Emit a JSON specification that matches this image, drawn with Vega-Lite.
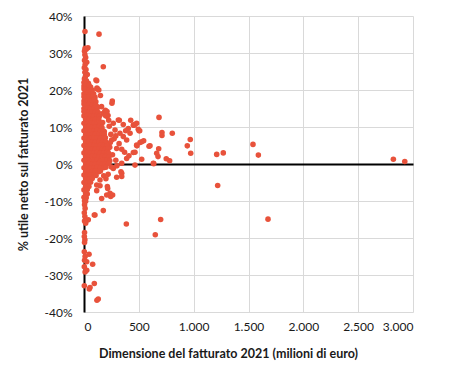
{
"$schema": "https://vega.github.io/schema/vega-lite/v6.json",
"width": 329, "height": 296,
"autosize": {"type": "none"},
"padding": {"left": 84, "top": 16, "right": 37, "bottom": 56},
"background": "white",
"config": {"view": {"stroke": null}, "font": "Lato"},
"data": {"values": [
{"x":684,"y":12.6},{"x":711,"y":8.5},{"x":711,"y":7.7},{"x":805,"y":8.3},{"x":602,"y":4.9},{"x":681,"y":4.1},{"x":663,"y":2.9},{"x":675,"y":2.0},{"x":632,"y":0.2},{"x":750,"y":1.4},{"x":781,"y":0.9},{"x":969,"y":6.6},{"x":942,"y":4.9},{"x":973,"y":2.9},{"x":1210,"y":2.6},{"x":1270,"y":3.0},{"x":1541,"y":5.3},{"x":1590,"y":2.4},{"x":2821,"y":1.3},{"x":2925,"y":0.7},{"x":1219,"y":-5.8},{"x":699,"y":-15.0},{"x":650,"y":-19.1},{"x":1678,"y":-14.9},{"x":386,"y":-16.2},
{"x":465,"y":10.7},{"x":495,"y":9.4},{"x":508,"y":9.0},{"x":544,"y":6.3},{"x":511,"y":5.8},{"x":483,"y":4.9},{"x":593,"y":4.8},{"x":465,"y":3.2},{"x":526,"y":1.3},{"x":636,"y":0.1},
{"x":176,"y":26.3},{"x":116,"y":22.5},{"x":137,"y":35.1},{"x":9,"y":35.8},{"x":121,"y":20.3},{"x":94,"y":17.3},{"x":258,"y":17.0},{"x":255,"y":16.4},{"x":189,"y":14.1},{"x":176,"y":13.7},{"x":219,"y":13.1},{"x":201,"y":13.7},{"x":195,"y":14.5},{"x":210,"y":14.2},{"x":205,"y":12.9},{"x":192,"y":13.2},
{"x":322,"y":11.8},{"x":426,"y":11.8},{"x":267,"y":11.0},{"x":358,"y":10.7},{"x":480,"y":11.0},{"x":450,"y":10.5},{"x":502,"y":9.0},{"x":404,"y":9.6},{"x":283,"y":9.2},{"x":328,"y":8.3},{"x":358,"y":7.4},{"x":252,"y":6.5},{"x":389,"y":6.5},{"x":526,"y":6.0},{"x":480,"y":5.1},{"x":298,"y":4.2},{"x":344,"y":4.0},{"x":450,"y":3.1},{"x":389,"y":1.5},{"x":465,"y":-0.3},{"x":344,"y":0.2},{"x":267,"y":-1.2},{"x":344,"y":-2.5},{"x":298,"y":-3.6},{"x":213,"y":-6.1},{"x":261,"y":-8.4},{"x":243,"y":-8.8},{"x":146,"y":-4.3},{"x":116,"y":-5.7},{"x":337,"y":-2.1},{"x":146,"y":-5.9},{"x":216,"y":-6.6},{"x":116,"y":-7.2},{"x":176,"y":-12.6},{"x":100,"y":-13.8},{"x":39,"y":-15.1},{"x":313,"y":11.9},{"x":456,"y":10.5},
{"x":230,"y":10.2},{"x":245,"y":8.0},{"x":275,"y":6.8},{"x":235,"y":4.5},{"x":260,"y":2.5},{"x":290,"y":1.0},{"x":250,"y":-0.8},{"x":220,"y":-2.8},{"x":200,"y":-4.0},{"x":180,"y":-3.2},{"x":300,"y":-0.5},{"x":320,"y":5.5},{"x":370,"y":3.2},{"x":410,"y":2.2},{"x":420,"y":8.3},{"x":380,"y":9.0},{"x":290,"y":7.6},{"x":225,"y":11.8},{"x":160,"y":15.5},{"x":150,"y":18.5},{"x":135,"y":20.0},{"x":170,"y":11.2},{"x":185,"y":8.8},{"x":240,"y":5.8},
{"x":70,"y":-3.0},{"x":161,"y":-9.3},{"x":207,"y":-8.4},{"x":237,"y":-7.9},{"x":94,"y":-13.8},{"x":344,"y":-3.4},
{"x":10,"y":31.3},{"x":5,"y":30.5},{"x":20,"y":31.0},{"x":36,"y":31.4},{"x":8,"y":29.5},{"x":15,"y":28.8},{"x":5,"y":28.0},{"x":25,"y":27.5},{"x":10,"y":26.8},{"x":3,"y":26.0},{"x":18,"y":25.5},{"x":8,"y":24.8},{"x":30,"y":24.2},{"x":12,"y":23.6},{"x":4,"y":23.0},{"x":22,"y":22.5},{"x":40,"y":21.8},{"x":109,"y":22.7},{"x":118,"y":20.5},
{"x":5,"y":-11.0},{"x":10,"y":-12.0},{"x":3,"y":-13.2},{"x":8,"y":-14.2},{"x":5,"y":-15.4},{"x":15,"y":-16.0},{"x":5,"y":-18.5},{"x":3,"y":-19.6},{"x":8,"y":-20.5},{"x":5,"y":-21.2},{"x":3,"y":-23.7},{"x":46,"y":-24.4},{"x":10,"y":-25.0},{"x":5,"y":-26.0},{"x":25,"y":-26.4},{"x":79,"y":-27.1},{"x":3,"y":-27.8},{"x":25,"y":-28.7},{"x":10,"y":-29.2},{"x":3,"y":-32.9},{"x":55,"y":-33.4},{"x":48,"y":-33.8},{"x":94,"y":-32.3},{"x":130,"y":-36.5},{"x":118,"y":-36.8},
{"x":0,"y":21.1},{"x":30,"y":21.0},{"x":60,"y":20.8},
{"x":15,"y":20.1},{"x":45,"y":19.9},{"x":75,"y":20.0},
{"x":0,"y":19.0},{"x":30,"y":19.1},{"x":60,"y":18.9},{"x":88,"y":19.0},
{"x":15,"y":18.0},{"x":45,"y":18.1},{"x":75,"y":17.9},{"x":100,"y":18.0},
{"x":0,"y":17.0},{"x":30,"y":16.9},{"x":60,"y":17.1},{"x":90,"y":17.0},{"x":108,"y":16.8},
{"x":15,"y":16.0},{"x":45,"y":16.1},{"x":75,"y":15.9},{"x":105,"y":16.0},
{"x":0,"y":15.0},{"x":30,"y":15.1},{"x":60,"y":14.9},{"x":90,"y":15.0},{"x":120,"y":15.1},
{"x":15,"y":14.0},{"x":45,"y":13.9},{"x":75,"y":14.1},{"x":105,"y":14.0},{"x":130,"y":13.9},
{"x":0,"y":13.0},{"x":30,"y":13.1},{"x":60,"y":12.9},{"x":90,"y":13.0},{"x":120,"y":13.1},{"x":140,"y":12.9},
{"x":15,"y":12.0},{"x":45,"y":12.1},{"x":75,"y":11.9},{"x":105,"y":12.0},{"x":135,"y":12.1},
{"x":0,"y":11.0},{"x":30,"y":10.9},{"x":60,"y":11.1},{"x":90,"y":11.0},{"x":120,"y":10.9},{"x":150,"y":11.0},
{"x":15,"y":10.0},{"x":45,"y":10.1},{"x":75,"y":9.9},{"x":105,"y":10.0},{"x":135,"y":10.1},{"x":163,"y":9.9},
{"x":0,"y":9.0},{"x":30,"y":9.1},{"x":60,"y":8.9},{"x":90,"y":9.0},{"x":120,"y":9.1},{"x":150,"y":8.9},{"x":175,"y":9.0},
{"x":15,"y":8.0},{"x":45,"y":7.9},{"x":75,"y":8.1},{"x":105,"y":8.0},{"x":135,"y":7.9},{"x":165,"y":8.1},{"x":185,"y":8.0},
{"x":0,"y":7.0},{"x":30,"y":7.1},{"x":60,"y":6.9},{"x":90,"y":7.0},{"x":120,"y":7.1},{"x":150,"y":6.9},{"x":180,"y":7.0},{"x":195,"y":7.1},
{"x":15,"y":6.0},{"x":45,"y":6.1},{"x":75,"y":5.9},{"x":105,"y":6.0},{"x":135,"y":6.1},{"x":165,"y":5.9},{"x":198,"y":6.0},
{"x":0,"y":5.0},{"x":30,"y":4.9},{"x":60,"y":5.1},{"x":90,"y":5.0},{"x":120,"y":4.9},{"x":150,"y":5.1},{"x":180,"y":5.0},{"x":210,"y":4.9},
{"x":15,"y":4.0},{"x":45,"y":4.1},{"x":75,"y":3.9},{"x":105,"y":4.0},{"x":135,"y":4.1},{"x":165,"y":3.9},{"x":195,"y":4.0},{"x":220,"y":4.1},
{"x":0,"y":3.0},{"x":30,"y":3.1},{"x":60,"y":2.9},{"x":90,"y":3.0},{"x":120,"y":3.1},{"x":150,"y":2.9},{"x":180,"y":3.0},{"x":210,"y":3.1},{"x":225,"y":2.9},
{"x":15,"y":2.0},{"x":45,"y":1.9},{"x":75,"y":2.1},{"x":105,"y":2.0},{"x":135,"y":1.9},{"x":165,"y":2.1},{"x":195,"y":2.0},{"x":228,"y":1.9},
{"x":0,"y":1.0},{"x":30,"y":1.1},{"x":60,"y":0.9},{"x":90,"y":1.0},{"x":120,"y":1.1},{"x":150,"y":0.9},{"x":180,"y":1.0},{"x":210,"y":1.1},{"x":235,"y":0.9},
{"x":15,"y":0.0},{"x":45,"y":0.1},{"x":75,"y":-0.1},{"x":105,"y":0.0},{"x":135,"y":0.1},{"x":165,"y":-0.1},{"x":195,"y":0.0},{"x":225,"y":0.1},
{"x":0,"y":-1.0},{"x":30,"y":-0.9},{"x":60,"y":-1.1},{"x":90,"y":-1.0},{"x":120,"y":-0.9},{"x":150,"y":-1.1},{"x":180,"y":-1.0},{"x":200,"y":-0.9},
{"x":15,"y":-2.0},{"x":45,"y":-2.1},{"x":75,"y":-1.9},{"x":105,"y":-2.0},{"x":135,"y":-2.1},{"x":150,"y":-1.9},
{"x":0,"y":-3.0},{"x":30,"y":-3.1},{"x":60,"y":-2.9},{"x":90,"y":-3.0},{"x":110,"y":-3.1},
{"x":15,"y":-4.0},{"x":45,"y":-4.1},{"x":75,"y":-3.9},
{"x":0,"y":-5.0},{"x":30,"y":-5.1},{"x":60,"y":-4.9},
{"x":15,"y":-6.0},{"x":45,"y":-6.1},
{"x":0,"y":-7.0},{"x":30,"y":-6.9},
{"x":15,"y":-8.0},{"x":30,"y":-8.1},
{"x":0,"y":-9.0},{"x":20,"y":-9.1},
{"x":5,"y":-10.0},{"x":15,"y":-10.1},
{"x":0,"y":22.0},{"x":20,"y":21.5},{"x":45,"y":21.3},{"x":0,"y":20.3},{"x":60,"y":19.6},{"x":85,"y":18.5},{"x":0,"y":18.2},{"x":95,"y":17.5},{"x":0,"y":16.2},{"x":115,"y":15.6},{"x":0,"y":14.2}
]},
"mark": {"type": "circle", "size": 31, "color": "#E8523B", "opacity": 1},
"encoding": {
"x": {"field": "x", "type": "quantitative",
 "scale": {"domain": [0, 3000], "nice": false, "zero": false},
 "axis": {"values": [0, 500, 1000, 1500, 2000, 2500, 3000],
  "title": "Dimensione del fatturato 2021 (milioni di euro)",
  "labelExpr": "replace(format(datum.value, ','), ',', '.')",
  "domain": false, "ticks": false, "gridColor": "#d9d9d9", "gridWidth": 1,
  "labelFontSize": 12, "labelColor": "#1a1a1a", "labelPadding": 9,
  "titleFontSize": 12.5, "titleFontWeight": "bold", "titleColor": "#1a1a1a",
  "titleAnchor": "middle", "titleX": 144, "titleY": 41, "titleBaseline": "middle"}},
"y": {"field": "y", "type": "quantitative",
 "scale": {"domain": [-40, 40], "nice": false, "zero": false},
 "axis": {"values": [-40, -30, -20, -10, 0, 10, 20, 30, 40],
  "title": "% utile netto sul fatturato 2021",
  "labelExpr": "datum.value + '%'",
  "domain": true, "domainColor": "#000", "domainWidth": 2, "ticks": false,
  "gridColor": {"condition": {"test": "datum.value === 0", "value": "#000"}, "value": "#d9d9d9"},
  "gridWidth": {"condition": {"test": "datum.value === 0", "value": 2}, "value": 1},
  "labelFontSize": 12, "labelColor": "#1a1a1a", "labelPadding": 12,
  "titleFontSize": 12.5, "titleFontWeight": "bold", "titleColor": "#1a1a1a",
  "titleAnchor": "middle", "titleX": -61, "titleY": 148, "titleBaseline": "middle", "titleAngle": -90}}
}
}
